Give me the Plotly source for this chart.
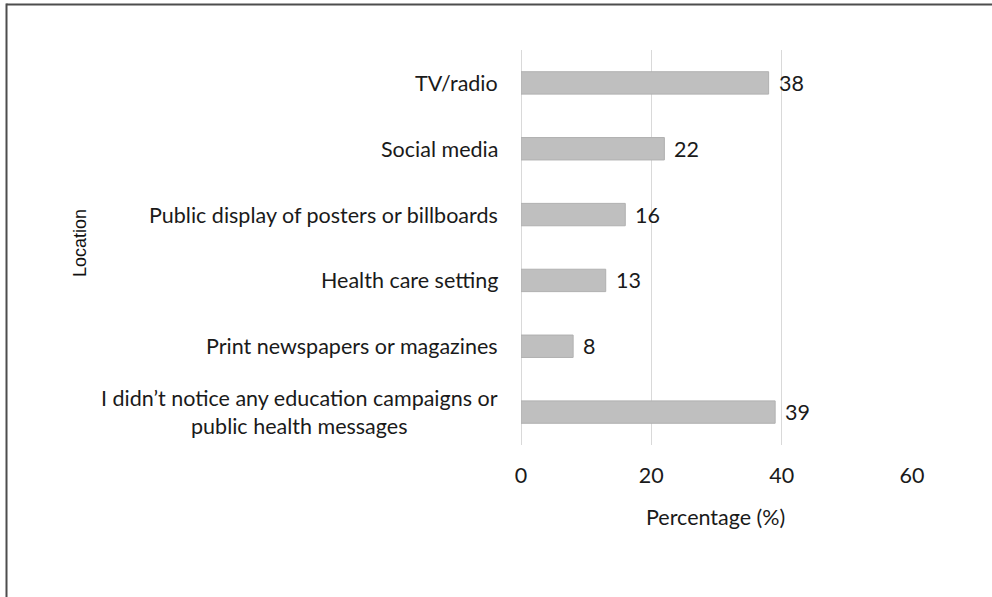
import plotly.graph_objects as go

# Survey responses: where respondents saw campaigns / messages
categories = [
    "TV/radio",
    "Social media",
    "Public display of posters or billboards",
    "Health care setting",
    "Print newspapers or magazines",
    "I didn\u2019t notice any education campaigns or<br>public health messages",
]
percentages = [38, 22, 16, 13, 8, 39]
x_ticks = [0, 20, 40, 60]

W, H = 992, 597
L, R, T, B = 521, 80, 50, 152
plot_w = W - L - R
plot_h = H - T - B

def px_to_paper_x(px):
    return (px - L) / plot_w

def px_to_paper_y(py):
    return 1 - (py - T) / plot_h

label_font = dict(family="Lato, Carlito, Calibri, sans-serif", size=21.5, color="#1a1a1a")

fig = go.Figure()
fig.add_trace(go.Bar(
    x=percentages,
    y=categories,
    orientation="h",
    marker=dict(color="#bfbfbf", line=dict(color="#b0b0b0", width=1)),
    hoverinfo="skip",
))

annotations = []
# category labels (centred multi-line text, right-anchored at the axis)
for cat in categories:
    annotations.append(dict(
        x=0, xref="paper", y=cat, yref="y",
        text=cat, showarrow=False, xanchor="right", yanchor="middle",
        align="center", xshift=-21, font=label_font,
    ))
# value labels at the end of each bar
for cat, val in zip(categories, percentages):
    annotations.append(dict(
        x=val, xref="x", y=cat, yref="y",
        text=str(val), showarrow=False, xanchor="left", yanchor="middle",
        xshift=8, font=label_font,
    ))
# axis titles
annotations.append(dict(
    x=px_to_paper_x(715), xref="paper", y=px_to_paper_y(517), yref="paper",
    text="Percentage (%)", showarrow=False, xanchor="center", yanchor="middle",
    font=label_font,
))
annotations.append(dict(
    x=px_to_paper_x(80), xref="paper", y=px_to_paper_y(243), yref="paper",
    text="Location", showarrow=False, textangle=-90, xanchor="center", yanchor="middle",
    font=dict(family="Liberation Sans, Arial, sans-serif", size=18, color="#111111"),
))

fig.update_layout(
    width=W, height=H,
    margin=dict(l=L, r=R, t=T, b=B, pad=0),
    paper_bgcolor="white", plot_bgcolor="white",
    showlegend=False,
    bargap=0.66,
    annotations=annotations,
    shapes=[
        # outer frame (top and left edges)
        dict(type="line", xref="paper", yref="paper",
             x0=px_to_paper_x(6.5), x1=px_to_paper_x(1000),
             y0=px_to_paper_y(4.5), y1=px_to_paper_y(4.5),
             line=dict(color="#4d4d4d", width=2)),
        dict(type="line", xref="paper", yref="paper",
             x0=px_to_paper_x(6.5), x1=px_to_paper_x(6.5),
             y0=px_to_paper_y(3.5), y1=px_to_paper_y(610),
             line=dict(color="#4d4d4d", width=2)),
    ],
    xaxis=dict(
        range=[0, 60], tickvals=x_ticks, ticktext=[str(v) for v in x_ticks],
        showgrid=True, gridcolor="#d9d9d9", gridwidth=1,
        zeroline=True, zerolinecolor="#d9d9d9", zerolinewidth=1,
        showline=False, ticks="",
        tickfont=label_font, ticklabelstandoff=15,
        fixedrange=True,
    ),
    yaxis=dict(
        categoryorder="array", categoryarray=categories[::-1],
        showticklabels=False, showgrid=False, zeroline=False, showline=False,
        ticks="", fixedrange=True,
    ),
)

fig.write_html("out.html")
